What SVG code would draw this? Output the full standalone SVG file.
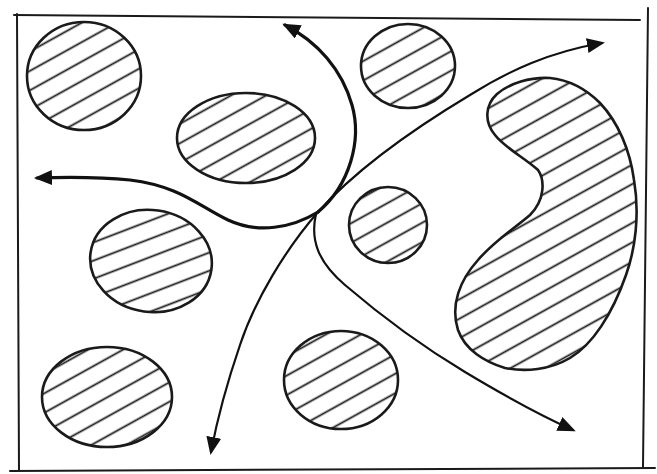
<svg xmlns="http://www.w3.org/2000/svg" width="657" height="474" viewBox="0 0 657 474">
<style>
.frame{fill:none;stroke:#1a1a1a;stroke-width:2;stroke-linecap:round}
.blob{fill:url(#hatch);stroke:#1a1a1a;stroke-width:2.6}
.thick{fill:none;stroke:#111;stroke-width:3.2;stroke-linecap:round}
.thin{fill:none;stroke:#111;stroke-width:2.2;stroke-linecap:round}
</style>
<defs>
<pattern id="hatch" patternUnits="userSpaceOnUse" width="17" height="17" patternTransform="rotate(-29)">
<rect width="17" height="17" fill="#fff"/>
<line x1="0" y1="8.5" x2="17" y2="8.5" stroke="#1a1a1a" stroke-width="1.8"/>
</pattern>
<marker id="head" viewBox="0 0 18 15" markerWidth="18" markerHeight="15" refX="15" refY="7.5" orient="auto" markerUnits="userSpaceOnUse">
<path d="M0,0 L18,7.5 L0,15 z" fill="#111"/>
</marker>
</defs>
<rect width="657" height="474" fill="#fff"/>
<g id="frame">
<path class="frame" d="M14,15 L640,20"/>
<path class="frame" d="M17,14 L19,470"/>
<path class="frame" d="M648,8 L643,467"/>
<path class="frame" d="M10,471 L655,468"/>
</g>
<g id="blobs">
<ellipse id="b1" class="blob" cx="84" cy="76" rx="57" ry="54"/>
<ellipse id="b2" class="blob" cx="246" cy="138" rx="69" ry="45"/>
<ellipse id="b3" class="blob" cx="408" cy="66" rx="47" ry="42"/>
<ellipse id="b4" class="blob" cx="388" cy="225" rx="39" ry="38"/>
<path id="b5" class="blob" d="M550,78 C570,80 585,88 600,103 C618,122 630,150 634,180 C640,215 635,250 626,275 C612,315 592,345 570,358 C550,370 525,372 505,368 C485,362 465,350 458,330 C450,305 460,280 478,260 C495,240 515,228 530,215 C545,200 545,180 538,170 C525,158 505,148 495,135 C484,122 485,105 497,94 C510,83 530,77 550,78 Z"/>
<ellipse id="b6" class="blob" cx="151" cy="261" rx="61" ry="51" transform="rotate(8 151 261)"/>
<ellipse id="b7" class="blob" cx="107" cy="397" rx="65" ry="50"/>
<ellipse id="b8" class="blob" cx="341" cy="380" rx="57" ry="49"/>
</g>
<g id="connectors">
<path class="thick" marker-end="url(#head)" d="M318,212 C350,185 362,140 352,105 C342,70 318,42 285,25"/>
<path class="thick" marker-end="url(#head)" d="M318,212 C292,228 258,234 228,220 C200,207 180,186 130,180 C100,177 70,177 37,178"/>
<path class="thin" marker-end="url(#head)" d="M318,212 C360,165 420,125 470,95 C510,70 550,52 602,43"/>
<path class="thin" marker-end="url(#head)" d="M318,212 C285,250 255,300 240,345 C228,380 218,415 211,452"/>
<path class="thin" marker-end="url(#head)" d="M316,214 C310,240 318,262 345,285 C380,315 420,345 465,372 C500,393 535,413 573,430"/>
</g>
</svg>
